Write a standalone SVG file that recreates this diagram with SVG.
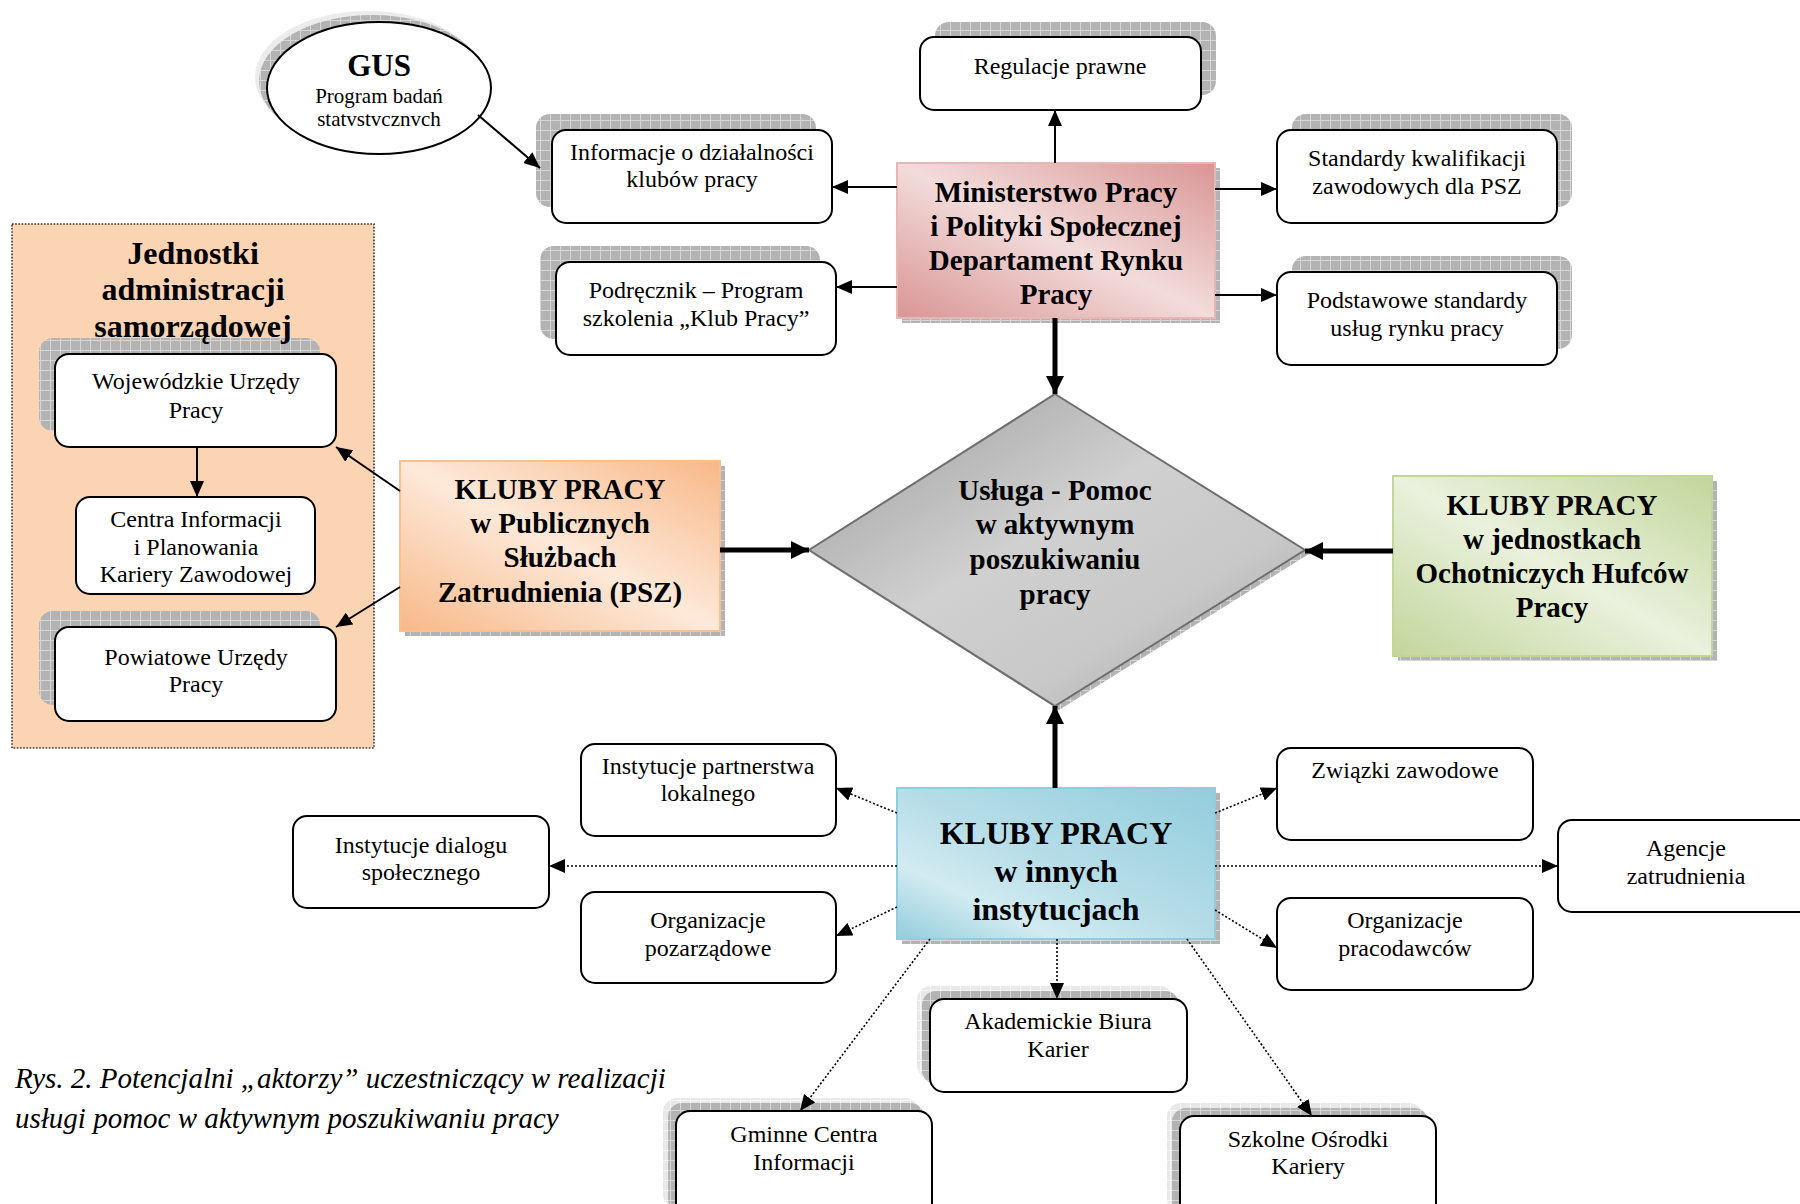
<svg xmlns="http://www.w3.org/2000/svg" width="1800" height="1204" viewBox="0 0 1800 1204">
<style>
text{font-family:"Liberation Serif","Times New Roman",serif;fill:#000}
.t{font-size:24px;text-anchor:middle}
.b{font-weight:bold;text-anchor:middle;font-size:29px}
.box{fill:#fff;stroke:#000;stroke-width:2}
.sh{fill:url(#hatch)}
.shl{fill:url(#hatchL)}
.ln{stroke:#000;stroke-width:2;fill:none}
.thick{stroke:#000;stroke-width:5;fill:none}
.dot{stroke:#000;stroke-width:1.6;stroke-dasharray:2 2;fill:none}
</style>
<defs>
<pattern id="hatch" width="10" height="10" patternUnits="userSpaceOnUse">
<rect width="10" height="10" fill="#b3b3b3"/>
<path d="M0 0.5H10M0.5 0V10" stroke="#d6d6d6" stroke-width="1"/>
</pattern>
<pattern id="hatchL" width="10" height="10" patternUnits="userSpaceOnUse">
<rect width="10" height="10" fill="#e8e8e8"/>
<path d="M0 0.5H10M0.5 0V10" stroke="#f6f6f6" stroke-width="1"/>
</pattern>
<linearGradient id="gMin2" x1="1" y1="0" x2="0" y2="1">
<stop offset="0" stop-color="#d99594"/><stop offset="0.5" stop-color="#f2dcdb"/><stop offset="1" stop-color="#d99594"/>
</linearGradient>
<linearGradient id="gPsz2" x1="1" y1="0" x2="0" y2="1">
<stop offset="0" stop-color="#f8b888"/><stop offset="0.5" stop-color="#fde9d9"/><stop offset="1" stop-color="#f8b888"/>
</linearGradient>
<linearGradient id="gGreen" x1="1" y1="0" x2="0" y2="1">
<stop offset="0" stop-color="#c2d69b"/><stop offset="0.5" stop-color="#eaf1dd"/><stop offset="1" stop-color="#c2d69b"/>
</linearGradient>
<linearGradient id="gBlue" x1="1" y1="0" x2="0" y2="1">
<stop offset="0" stop-color="#92cddc"/><stop offset="0.5" stop-color="#b6dde8"/><stop offset="0.75" stop-color="#d2ebf1"/><stop offset="1" stop-color="#92cddc"/>
</linearGradient>
<linearGradient id="gDia" x1="0" y1="0" x2="1" y2="1">
<stop offset="0" stop-color="#9a9a9a"/><stop offset="0.45" stop-color="#d0d0d0"/><stop offset="0.7" stop-color="#c8c8c8"/><stop offset="1" stop-color="#a0a0a0"/>
</linearGradient>
<marker id="ar" markerUnits="userSpaceOnUse" markerWidth="16" markerHeight="14" refX="16" refY="7" orient="auto">
<path d="M0 0L16 7L0 14z" fill="#000"/>
</marker>
<marker id="arT" markerUnits="userSpaceOnUse" markerWidth="18" markerHeight="18" refX="18" refY="9" orient="auto">
<path d="M0 0L18 9L0 18z" fill="#000"/>
</marker>
</defs>
<rect width="1800" height="1204" fill="#fff"/>

<g id="jednostki">
<rect x="12" y="224" width="362" height="524" fill="#fbd4b4" stroke="#333" stroke-width="1.6" stroke-dasharray="1.6 1.6"/>
</g>

<g id="gus">
<ellipse cx="368" cy="77" rx="113" ry="66" fill="#ececec"/>
<ellipse cx="372" cy="81" rx="113" ry="66" class="sh"/>
<ellipse cx="379" cy="88" rx="112" ry="66" class="box"/>
<text class="b" x="379" y="76" style="font-size:31px">GUS</text>
<text class="t" x="379" y="103" style="font-size:21px">Program badań</text>
<text class="t" x="379" y="126" style="font-size:21px">statvstvcznvch</text>
</g>

<g id="regulacje">
<rect x="935" y="22" width="281" height="73" rx="14" class="sh"/>
<rect x="920" y="37" width="281" height="73" rx="14" class="box"/>
<text class="t" x="1060" y="74">Regulacje prawne</text>
</g>

<g id="informacje">
<rect x="536" y="114" width="280" height="93" rx="14" class="sh"/>
<rect x="552" y="130" width="280" height="93" rx="14" class="box"/>
<text class="t" x="692" y="160">Informacje o działalności</text>
<text class="t" x="692" y="187">klubów pracy</text>
</g>

<g id="podrecznik">
<rect x="540" y="246" width="280" height="93" rx="14" class="sh"/>
<rect x="556" y="262" width="280" height="93" rx="14" class="box"/>
<text class="t" x="696" y="298">Podręcznik – Program</text>
<text class="t" x="696" y="326">szkolenia „Klub Pracy”</text>
</g>

<g id="standardy">
<rect x="1292" y="114" width="280" height="93" rx="14" class="sh"/>
<rect x="1277" y="130" width="280" height="93" rx="14" class="box"/>
<text class="t" x="1417" y="166">Standardy kwalifikacji</text>
<text class="t" x="1417" y="194">zawodowych dla PSZ</text>
</g>

<g id="podstawowe">
<rect x="1292" y="256" width="280" height="93" rx="14" class="sh"/>
<rect x="1277" y="272" width="280" height="93" rx="14" class="box"/>
<text class="t" x="1417" y="308">Podstawowe standardy</text>
<text class="t" x="1417" y="336">usług rynku pracy</text>
</g>

<g id="ministerstwo">
<rect x="902" y="168" width="318" height="155" class="sh"/>
<rect x="897" y="163" width="318" height="155" fill="url(#gMin2)" stroke="#e5b8b7" stroke-width="2"/>
<text class="b" x="1056" y="202">Ministerstwo Pracy</text>
<text class="b" x="1056" y="236">i Polityki Społecznej</text>
<text class="b" x="1056" y="270">Departament Rynku</text>
<text class="b" x="1056" y="304">Pracy</text>
</g>

<g id="wojewodzkie">
<rect x="39" y="338" width="281" height="93" rx="14" class="sh"/>
<rect x="55" y="354" width="281" height="93" rx="14" class="box"/>
<text class="t" x="196" y="389">Wojewódzkie Urzędy</text>
<text class="t" x="196" y="418">Pracy</text>
</g>

<g id="jednostki-title">
<text class="b" x="193" y="264" style="font-size:32px">Jednostki</text>
<text class="b" x="193" y="300" style="font-size:32px">administracji</text>
<text class="b" x="193" y="337" style="font-size:32px">samorządowej</text>
</g>

<g id="centra">
<rect x="76" y="497" width="239" height="97" rx="14" class="box"/>
<text class="t" x="196" y="527">Centra Informacji</text>
<text class="t" x="196" y="555">i Planowania</text>
<text class="t" x="196" y="582">Kariery Zawodowej</text>
</g>

<g id="powiatowe">
<rect x="39" y="611" width="281" height="94" rx="14" class="sh"/>
<rect x="55" y="627" width="281" height="94" rx="14" class="box"/>
<text class="t" x="196" y="665">Powiatowe Urzędy</text>
<text class="t" x="196" y="692">Pracy</text>
</g>

<g id="psz">
<rect x="405" y="466" width="320" height="170" class="sh"/>
<rect x="400" y="461" width="320" height="170" fill="url(#gPsz2)" stroke="#fac090" stroke-width="2"/>
<text class="b" x="560" y="499">KLUBY PRACY</text>
<text class="b" x="560" y="533">w Publicznych</text>
<text class="b" x="560" y="567">Służbach</text>
<text class="b" x="560" y="602">Zatrudnienia (PSZ)</text>
</g>

<g id="usluga">
<polygon points="1059,398 1309,554 1059,710 813,554" class="sh"/>
<polygon points="1055,394 1305,550 1055,706 809,550" fill="url(#gDia)" stroke="#6e6e6e" stroke-width="2"/>
<text class="b" x="1055" y="500">Usługa - Pomoc</text>
<text class="b" x="1055" y="534">w aktywnym</text>
<text class="b" x="1055" y="569">poszukiwaniu</text>
<text class="b" x="1055" y="604">pracy</text>
</g>

<g id="ohp">
<rect x="1398" y="481" width="319" height="180" class="sh"/>
<rect x="1393" y="476" width="319" height="180" fill="url(#gGreen)" stroke="#c2d69b" stroke-width="2"/>
<text class="b" x="1552" y="515">KLUBY PRACY</text>
<text class="b" x="1552" y="549">w jednostkach</text>
<text class="b" x="1552" y="583">Ochotniczych Hufców</text>
<text class="b" x="1552" y="617">Pracy</text>
</g>

<g id="inne">
<rect x="902" y="793" width="318" height="151" class="sh"/>
<rect x="897" y="788" width="318" height="151" fill="url(#gBlue)" stroke="#92cddc" stroke-width="2"/>
<text class="b" x="1056" y="844" style="font-size:32px">KLUBY PRACY</text>
<text class="b" x="1056" y="882" style="font-size:32px">w innych</text>
<text class="b" x="1056" y="920" style="font-size:32px">instytucjach</text>
</g>

<g id="partnerstwa">
<rect x="581" y="744" width="255" height="92" rx="14" class="box"/>
<text class="t" x="708" y="774">Instytucje partnerstwa</text>
<text class="t" x="708" y="801">lokalnego</text>
</g>

<g id="dialogu">
<rect x="293" y="816" width="256" height="92" rx="14" class="box"/>
<text class="t" x="421" y="853">Instytucje dialogu</text>
<text class="t" x="421" y="880">społecznego</text>
</g>

<g id="pozarzadowe">
<rect x="581" y="892" width="255" height="91" rx="14" class="box"/>
<text class="t" x="708" y="928">Organizacje</text>
<text class="t" x="708" y="956">pozarządowe</text>
</g>

<g id="zwiazki">
<rect x="1277" y="748" width="256" height="92" rx="14" class="box"/>
<text class="t" x="1405" y="778">Związki zawodowe</text>
</g>

<g id="agencje">
<rect x="1558" y="820" width="258" height="92" rx="14" class="box"/>
<text class="t" x="1686" y="856">Agencje</text>
<text class="t" x="1686" y="884">zatrudnienia</text>
</g>

<g id="pracodawcow">
<rect x="1277" y="898" width="256" height="92" rx="14" class="box"/>
<text class="t" x="1405" y="928">Organizacje</text>
<text class="t" x="1405" y="956">pracodawców</text>
</g>

<g id="akademickie">
<rect x="917" y="986" width="257" height="93" rx="14" class="shl"/>
<rect x="922" y="991" width="257" height="93" rx="14" class="sh"/>
<rect x="930" y="999" width="257" height="93" rx="14" class="box"/>
<text class="t" x="1058" y="1029">Akademickie Biura</text>
<text class="t" x="1058" y="1057">Karier</text>
</g>

<g id="gminne">
<rect x="663" y="1098" width="256" height="110" rx="14" class="shl"/>
<rect x="668" y="1103" width="256" height="110" rx="14" class="sh"/>
<rect x="676" y="1111" width="256" height="110" rx="14" class="box"/>
<text class="t" x="804" y="1142">Gminne Centra</text>
<text class="t" x="804" y="1170">Informacji</text>
</g>

<g id="szkolne">
<rect x="1167" y="1103" width="256" height="110" rx="14" class="shl"/>
<rect x="1172" y="1108" width="256" height="110" rx="14" class="sh"/>
<rect x="1180" y="1116" width="256" height="110" rx="14" class="box"/>
<text class="t" x="1308" y="1147">Szkolne Ośrodki</text>
<text class="t" x="1308" y="1174">Kariery</text>
</g>

<g id="connectors">
<path class="ln" d="M478 115L540 168" marker-end="url(#ar)"/>
<path class="ln" d="M1055 163V110" marker-end="url(#ar)"/>
<path class="ln" d="M897 187H832" marker-end="url(#ar)"/>
<path class="ln" d="M897 287H836" marker-end="url(#ar)"/>
<path class="ln" d="M1215 189H1277" marker-end="url(#ar)"/>
<path class="ln" d="M1215 295H1277" marker-end="url(#ar)"/>
<path class="thick" d="M1055 318V394" marker-end="url(#arT)"/>
<path class="thick" d="M720 550H809" marker-end="url(#arT)"/>
<path class="thick" d="M1393 551H1305" marker-end="url(#arT)"/>
<path class="thick" d="M1055 788V706" marker-end="url(#arT)"/>
<path class="ln" d="M400 491L336 447" marker-end="url(#ar)"/>
<path class="ln" d="M400 587L336 627" marker-end="url(#ar)"/>
<path class="ln" d="M197 447V497" marker-end="url(#ar)"/>
<path class="dot" d="M897 813L836 788" marker-end="url(#ar)"/>
<path class="dot" d="M897 866H549" marker-end="url(#ar)"/>
<path class="dot" d="M897 907L836 936" marker-end="url(#ar)"/>
<path class="dot" d="M1215 813L1277 788" marker-end="url(#ar)"/>
<path class="dot" d="M1215 866H1558" marker-end="url(#ar)"/>
<path class="dot" d="M1215 910L1277 948" marker-end="url(#ar)"/>
<path class="dot" d="M1057 939V999" marker-end="url(#ar)"/>
<path class="dot" d="M930 939L800 1111" marker-end="url(#ar)"/>
<path class="dot" d="M1187 939L1312 1116" marker-end="url(#ar)"/>
</g>

<g id="caption" font-style="italic" font-size="29">
<text x="15" y="1088">Rys. 2. Potencjalni „aktorzy” uczestniczący w realizacji</text>
<text x="15" y="1128">usługi pomoc w aktywnym poszukiwaniu pracy</text>
</g>
</svg>
